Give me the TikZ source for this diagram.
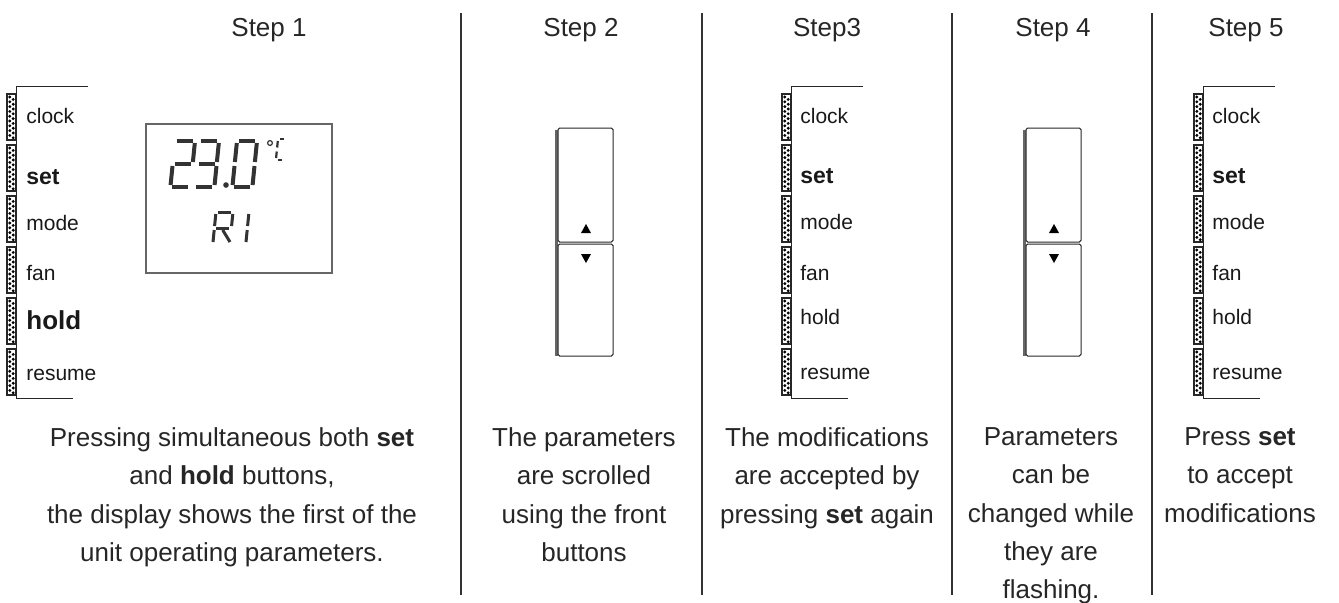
\documentclass[tikz,border=0pt]{standalone}
\usepackage{fontspec}
\setmainfont{Liberation Sans}
\usetikzlibrary{positioning}

% segments of one LCD digit, local box \lcdw x \lcdh
\newcommand{\sgA}{\draw[lcd] (2,0) -- ({\lcdw-2},0);}
\newcommand{\sgB}{\draw[lcd] (\lcdw,2) -- (\lcdw,{\lcdh/2-2});}
\newcommand{\sgC}{\draw[lcd] (\lcdw,{\lcdh/2+2}) -- (\lcdw,{\lcdh-2});}
\newcommand{\sgD}{\draw[lcd] (2,\lcdh) -- ({\lcdw-2},\lcdh);}
\newcommand{\sgE}{\draw[lcd] (0,{\lcdh/2+2}) -- (0,{\lcdh-2});}
\newcommand{\sgF}{\draw[lcd] (0,2) -- (0,{\lcdh/2-2});}
\newcommand{\sgG}{\draw[lcd] (2,{\lcdh/2}) -- ({\lcdw-2},{\lcdh/2});}
\newcommand{\sgLeg}{\draw[lcd] ({\lcdw/2},{\lcdh/2+2}) -- (\lcdw,{\lcdh-2});}
\newcommand{\lcddigit}[3]{\begin{scope}[shift={(#1,#2)},xslant=0.1] #3 \end{scope}}

% dotted key strip, #1 = left edge
\newcommand{\keystrip}[1]{%
  \foreach \i in {0,...,5}{
    \pgfmathsetmacro\ytop{94+51*\i}
    \draw[edge, line width=0.7pt] (#1,\ytop) rectangle ({#1+9},{\ytop+46});
    \foreach \j in {0,...,8}{
      \fill ({#1+2.8},{\ytop+3+4.8*\j}) circle (0.8pt);
      \fill ({#1+6.2},{\ytop+5.4+4.8*\j}) circle (0.8pt);
    }
  }
  \draw[edge] ({#1+9},86) -- ({#1+9},398);
  \draw[edge] ({#1+9},86) -- ({#1+81},86);
  \draw[edge] ({#1+9},398) -- ({#1+66},398);
}

\begin{document}
\begin{tikzpicture}[x=0.5pt, y=-0.5pt,
    title/.style={font=\fontsize{13}{15}\selectfont, text=black!85, anchor=base},
    desc/.style={font=\fontsize{13}{19.2}\selectfont, align=center, text=black!85, anchor=north, inner sep=0pt},
    keylabel/.style={font=\fontsize{10.5}{12}\selectfont, anchor=west, inner sep=0pt, text=black!90},
    keybold/.style={keylabel, font=\fontsize{11.5}{12}\selectfont\bfseries},
    keybig/.style={keylabel, font=\fontsize{13}{14}\selectfont\bfseries},
    sep/.style={line width=1pt, draw=black!80},
    edge/.style={line width=0.5pt, draw=black!85},
    lcd/.style={line width=2pt, draw=black!80},
    button/.style={draw=black!85, line width=0.5pt, rounded corners=0.8pt}
]
    \useasboundingbox (0,0) rectangle (1339,602);

    % titles
    \node[title] (title1) at (269,36) {Step 1};
    \node[title] (title2) at (581,36) {Step 2};
    \node[title] (title3) at (827,36) {Step3};
    \node[title] (title4) at (1053,36) {Step 4};
    \node[title] (title5) at (1246,36) {Step 5};

    % separators
    \foreach \sx in {461,702,952,1152}
        \draw[sep] (\sx,13) -- (\sx,595);

    % key strips
    \keystrip{7}
    \keystrip{782}
    \keystrip{1194}

    \foreach \name/\yy/\sty in {clock/116/keylabel, set/177/keybold, mode/223/keylabel,
        fan/273/keylabel, hold/320/keybig, resume/375/keylabel}
        \node[\sty] (s1\name) at (26,\yy) {\name};
    \foreach \name/\yy/\sty in {clock/116/keylabel, set/176/keybold, mode/222/keylabel,
        fan/273/keylabel, hold/317/keylabel, resume/374/keylabel}{
        \node[\sty] (s3\name) at (800,\yy) {\name};
        \node[\sty] (s5\name) at (1212,\yy) {\name};
    }

    % display
    \draw[line width=0.7pt, draw=black!60] (146,124) rectangle (332,273);
    \def\lcdw{20}\def\lcdh{46}
    \lcddigit{175}{141}{\sgA\sgB\sgG\sgE\sgD}
    \lcddigit{199}{141}{\sgA\sgB\sgG\sgC\sgD}
    \lcddigit{237}{141}{\sgA\sgB\sgC\sgD\sgE\sgF}
    \fill[black!80] (226,185) circle (1.4pt);
    \draw[line width=0.6pt, black!80] (270,143) circle (1.2pt);
    \begin{scope}[lcd/.append style={line width=1.5pt}]
        \def\lcdw{17}\def\lcdh{32}
        \lcddigit{216}{212}{\sgA\sgB\sgF\sgE\sgG\sgLeg}
        \lcddigit{232}{212}{\sgB\sgC}
    \end{scope}
    \begin{scope}[lcd/.append style={line width=1.1pt}]
        \def\lcdw{8}\def\lcdh{21}
        \lcddigit{278}{139}{\sgA\sgF\sgE\sgD}
    \end{scope}

    % front buttons
    \foreach \bx in {558,1026}{
        \draw[line width=1.5pt, draw=black!60] ({\bx-2},130) -- ({\bx-2},356);
        \draw[button] (\bx,128) rectangle ({\bx+55},242);
        \draw[button] (\bx,244) rectangle ({\bx+55},356);
        \fill ({\bx+23},233) -- ({\bx+33},233) -- ({\bx+28},224) -- cycle;
        \fill ({\bx+23},254) -- ({\bx+33},254) -- ({\bx+28},263) -- cycle;
    }

    % descriptions
    \node[desc] (desc1) at (232,427) {Pressing simultaneous both \textbf{set}\\ and \textbf{hold} buttons,\\ the display shows the first of the\\ unit operating parameters.};
    \node[desc] (desc2) at (584,427) {The parameters\\ are scrolled\\ using the front\\ buttons};
    \node[desc] (desc3) at (827,427) {The modifications\\ are accepted by\\ pressing \textbf{set} again};
    \node[desc] (desc4) at (1051,427) {Parameters\\ can be\\ changed while\\ they are\\ flashing.};
    \node[desc] (desc5) at (1240,427) {Press \textbf{set}\\ to accept\\ modifications};
\end{tikzpicture}
\end{document}
